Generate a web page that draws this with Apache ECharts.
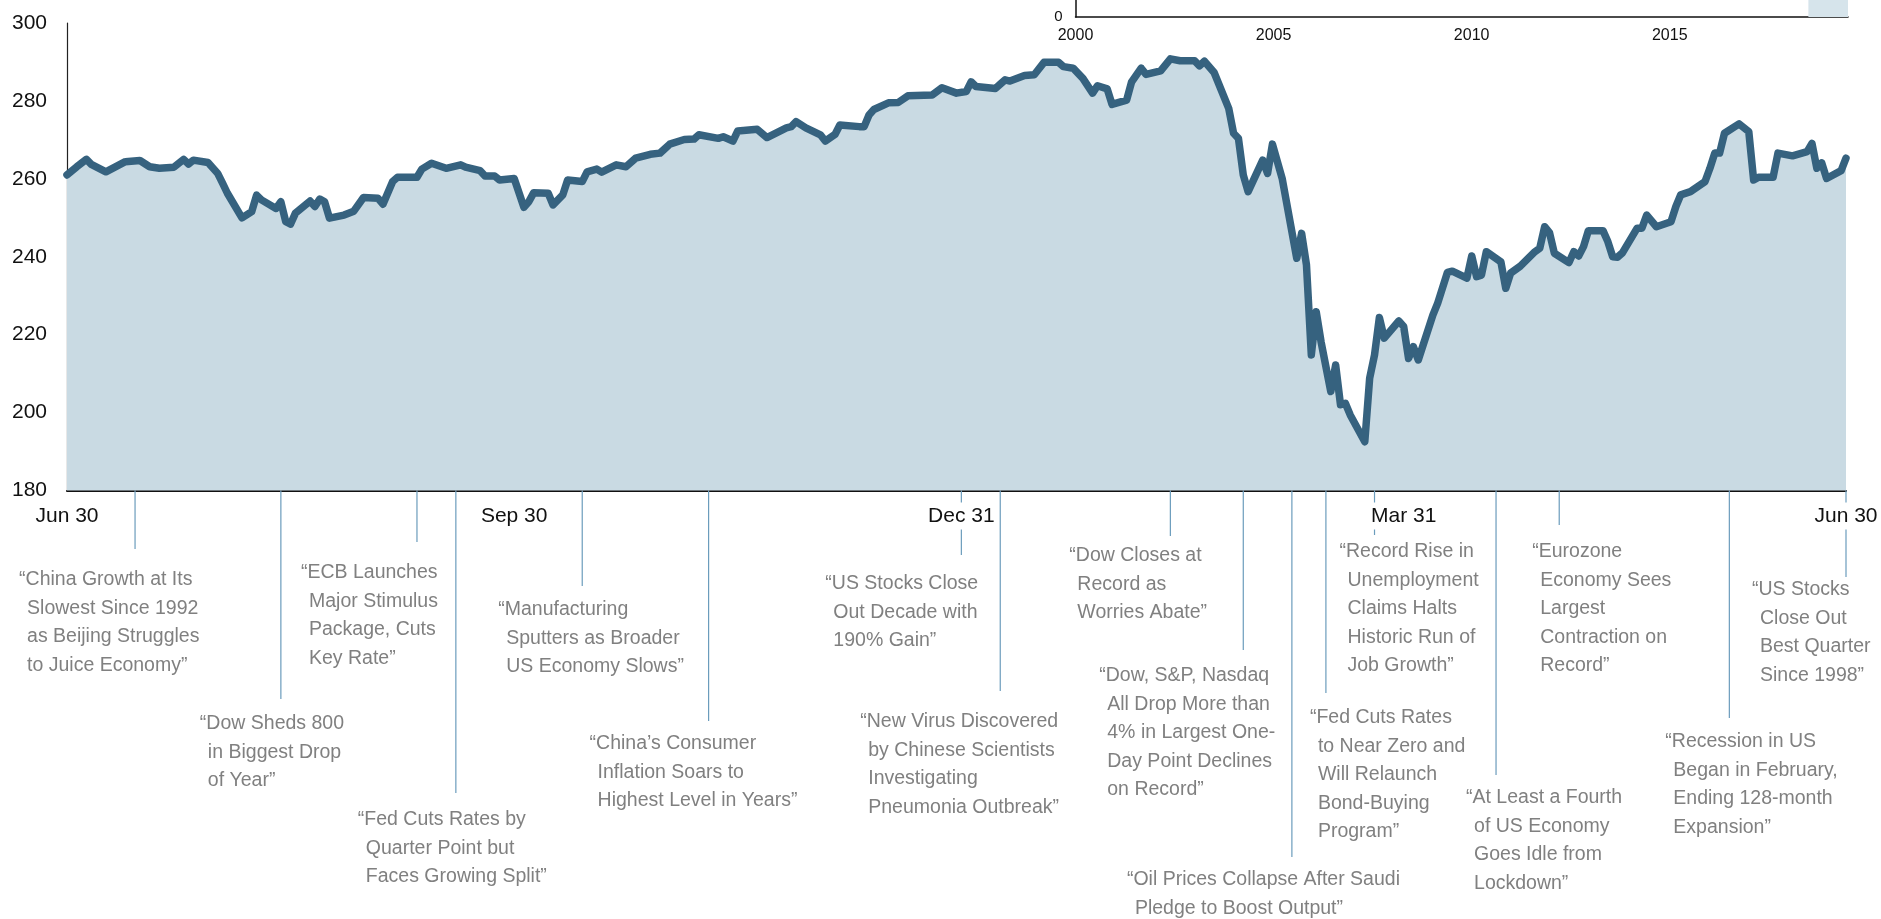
<!DOCTYPE html>
<html>
<head>
<meta charset="utf-8">
<script src="https://cdn.jsdelivr.net/npm/echarts@6/dist/echarts.min.js"></script>
<style>
html,body{margin:0;padding:0;background:#fff;}
#chart{width:1881px;height:919px;}
</style>
</head>
<body>
<div id="chart"></div>
<script>
// ---------------- DATA ----------------
const dates = [
'2019-06-30','2019-07-02','2019-07-04','2019-07-05','2019-07-08','2019-07-12','2019-07-15','2019-07-17','2019-07-19','2019-07-22',
'2019-07-24','2019-07-25','2019-07-26','2019-07-29','2019-07-31','2019-08-01','2019-08-02','2019-08-05','2019-08-07','2019-08-08',
'2019-08-09','2019-08-12','2019-08-13','2019-08-14','2019-08-15','2019-08-16','2019-08-19','2019-08-20','2019-08-21','2019-08-22',
'2019-08-23','2019-08-26','2019-08-28','2019-08-30','2019-09-02','2019-09-03','2019-09-05','2019-09-06','2019-09-10','2019-09-11',
'2019-09-13','2019-09-16','2019-09-19','2019-09-20','2019-09-23','2019-09-24','2019-09-26','2019-09-27','2019-09-30','2019-10-02',
'2019-10-03','2019-10-04','2019-10-07','2019-10-08','2019-10-10','2019-10-11','2019-10-14','2019-10-15','2019-10-17','2019-10-18',
'2019-10-21','2019-10-23','2019-10-25','2019-10-28','2019-10-30','2019-11-01','2019-11-04','2019-11-06','2019-11-07','2019-11-11',
'2019-11-12','2019-11-14','2019-11-15','2019-11-19','2019-11-21','2019-11-25','2019-11-26','2019-11-27','2019-11-29','2019-12-02',
'2019-12-03','2019-12-05','2019-12-06','2019-12-10','2019-12-11','2019-12-12','2019-12-13','2019-12-16','2019-12-18','2019-12-20',
'2019-12-25','2019-12-27','2019-12-30','2020-01-01','2020-01-02','2020-01-03','2020-01-07','2020-01-08','2020-01-09','2020-01-10',
'2020-01-13','2020-01-15','2020-01-17','2020-01-20','2020-01-21','2020-01-23','2020-01-25','2020-01-27','2020-01-28','2020-01-30',
'2020-01-31','2020-02-03','2020-02-04','2020-02-06','2020-02-07','2020-02-10','2020-02-12','2020-02-14','2020-02-17','2020-02-18',
'2020-02-19','2020-02-21','2020-02-24','2020-02-25','2020-02-26','2020-02-27','2020-02-28','2020-03-02','2020-03-03','2020-03-04',
'2020-03-06','2020-03-09','2020-03-10','2020-03-11','2020-03-12','2020-03-13','2020-03-14','2020-03-16','2020-03-17','2020-03-18',
'2020-03-19','2020-03-20','2020-03-23','2020-03-24','2020-03-25','2020-03-26','2020-03-27','2020-03-30','2020-03-31','2020-04-01',
'2020-04-02','2020-04-03','2020-04-06','2020-04-07','2020-04-09','2020-04-10','2020-04-13','2020-04-14','2020-04-15','2020-04-16',
'2020-04-17','2020-04-20','2020-04-21','2020-04-22','2020-04-24','2020-04-27','2020-04-28','2020-04-29','2020-04-30','2020-05-01',
'2020-05-04','2020-05-05','2020-05-06','2020-05-07','2020-05-08','2020-05-11','2020-05-12','2020-05-13','2020-05-14','2020-05-15',
'2020-05-18','2020-05-19','2020-05-20','2020-05-22','2020-05-25','2020-05-26','2020-05-27','2020-05-29','2020-06-01','2020-06-02',
'2020-06-03','2020-06-04','2020-06-05','2020-06-08','2020-06-10','2020-06-11','2020-06-12','2020-06-15','2020-06-16','2020-06-19',
'2020-06-22','2020-06-23','2020-06-24','2020-06-25','2020-06-26','2020-06-29','2020-06-30'
];
const values = [
261.0,263.1,265.0,263.7,261.8,264.4,264.7,263.1,262.7,263.0,
265.0,263.8,264.8,264.2,261.4,258.9,256.3,250.0,251.6,255.8,
254.6,252.4,254.1,249.0,248.4,251.2,254.3,252.9,254.8,254.1,
249.9,250.7,251.7,255.2,255.0,253.5,259.3,260.4,260.4,262.5,
264.0,262.7,263.6,263.0,262.1,260.7,260.7,259.7,260.1,252.7,
254.1,256.4,256.3,253.3,255.9,259.7,259.3,261.8,262.5,261.7,
263.6,263.1,265.3,266.3,266.6,268.9,270.1,270.2,271.3,270.4,
270.8,269.7,272.3,272.7,270.6,273.1,273.4,274.7,273.1,271.3,
269.7,271.4,273.8,273.4,273.4,276.4,277.8,279.5,279.6,281.3,
281.5,283.4,282.0,282.4,284.9,283.7,283.2,284.3,285.4,285.1,
286.5,286.7,289.9,289.9,288.8,288.4,285.8,282.0,283.9,283.1,
279.1,280.2,284.8,288.4,286.8,287.7,290.8,290.3,290.3,289.0,
290.2,287.3,278.1,271.7,270.4,261.0,256.7,264.8,261.4,268.9,
260.1,239.6,246.0,237.9,214.8,225.9,218.2,205.4,212.2,202.0,
202.4,199.4,192.5,208.8,214.8,224.4,219.1,223.5,222.1,213.9,
216.9,213.5,225.0,228.1,236.0,236.3,234.5,240.2,234.9,235.3,
241.3,238.7,231.9,235.8,237.6,241.3,242.2,247.7,246.2,240.9,
238.5,241.3,240.2,242.6,246.7,246.7,243.9,240.0,239.9,241.0,
247.3,247.3,250.7,247.7,249.0,252.9,255.9,256.7,259.3,262.7,
266.6,266.6,271.7,274.1,272.1,259.7,260.4,260.4,266.6,265.9,
267.0,269.1,262.7,264.1,260.1,262.1,265.3
];

const xRange = ['2019-06-30', '2020-06-30'];
const xTickDates = ['2019-06-30', '2019-09-30', '2019-12-31', '2020-03-31', '2020-06-30'];
const xTickLabels = ['Jun 30', 'Sep 30', 'Dec 31', 'Mar 31', 'Jun 30'];
const yMin = 180, yMax = 300, yStep = 20;

const insetRange = [2000, 2019.5];
const insetYears = [2000, 2005, 2010, 2015];
const insetZero = [0];
const insetHighlight = [2018.5, 2019.5];

const annDates = [
'2019-07-14','2019-08-13','2019-09-10','2019-09-18','2019-10-14','2019-11-09',
'2019-12-31','2020-01-08','2020-02-12','2020-02-27','2020-03-08','2020-03-15',
'2020-03-25','2020-04-19','2020-05-02','2020-06-06','2020-06-30'
];
const annTexts = [
['\u201cChina Growth at Its','Slowest Since 1992','as Beijing Struggles','to Juice Economy\u201d'],
['\u201cDow Sheds 800','in Biggest Drop','of Year\u201d'],
['\u201cECB Launches','Major Stimulus','Package, Cuts','Key Rate\u201d'],
['\u201cFed Cuts Rates by','Quarter Point but','Faces Growing Split\u201d'],
['\u201cManufacturing','Sputters as Broader','US Economy Slows\u201d'],
['\u201cChina\u2019s Consumer','Inflation Soars to','Highest Level in Years\u201d'],
['\u201cUS Stocks Close','Out Decade with','190% Gain\u201d'],
['\u201cNew Virus Discovered','by Chinese Scientists','Investigating','Pneumonia Outbreak\u201d'],
['\u201cDow Closes at','Record as','Worries Abate\u201d'],
['\u201cDow, S&P, Nasdaq','All Drop More than','4% in Largest One-','Day Point Declines','on Record\u201d'],
['\u201cOil Prices Collapse After Saudi','Pledge to Boost Output\u201d'],
['\u201cFed Cuts Rates','to Near Zero and','Will Relaunch','Bond-Buying','Program\u201d'],
['\u201cRecord Rise in','Unemployment','Claims Halts','Historic Run of','Job Growth\u201d'],
['\u201cAt Least a Fourth','of US Economy','Goes Idle from','Lockdown\u201d'],
['\u201cEurozone','Economy Sees','Largest','Contraction on','Record\u201d'],
['\u201cRecession in US','Began in February,','Ending 128-month','Expansion\u201d'],
['\u201cUS Stocks','Close Out','Best Quarter','Since 1998\u201d']
];

// ---------------- LAYOUT (pixels) ----------------
const annLineEnd = [549, 699, 542, 793, 586, 721, 555, 691, 536, 650, 857, 693, 535, 775, 525, 718, 577];
const annTextDx  = [-116, -81, -116, -98, -84, -119, -136, -140, -101, -144, -165, -16, -35, -30, -27, -64, -94];
const annTextY   = [580, 724, 573, 820, 610, 744, 584, 722, 556, 676, 880, 718, 552, 798, 552, 742, 590];
const annLineH = 28.5, annHang = 8;
const tickLabelDy = 25.5;

const FONT = '"Liberation Sans", Arial, Helvetica, sans-serif';
const LINE_COLOR = '#36627f';
const AREA_COLOR = '#c9dae3';
const LEADER_COLOR = '#6b9cbc';
const ANN_COLOR = '#808080';

function parseLocal(s) {
  const p = s.split('-').map(Number);
  return new Date(p[0], p[1] - 1, p[2]).getTime();
}

const chart = echarts.init(document.getElementById('chart'), null, {renderer: 'canvas'});

const option = {
  animation: false,
  backgroundColor: '#fff',
  textStyle: {fontFamily: FONT},
  grid: [
    {left: 67, right: 35, top: 23, bottom: 428.5},
    {left: 1075.5, right: 33, top: 0, height: 17}
  ],
  xAxis: [
    {
      type: 'time', gridIndex: 0,
      min: parseLocal(xRange[0]), max: parseLocal(xRange[1]),
      axisLine: {show: true, lineStyle: {color: '#111', width: 2}},
      axisTick: {show: false},
      splitLine: {show: false},
      axisLabel: {show: false}
    },
    {
      type: 'value', gridIndex: 1,
      min: insetRange[0], max: insetRange[1], interval: 5,
      axisLine: {show: true, lineStyle: {color: '#111', width: 1.5}},
      axisTick: {show: false},
      splitLine: {show: false},
      axisLabel: {
        customValues: insetYears,
        fontSize: 16, color: '#111', fontFamily: FONT, margin: 11,
        formatter: function (v) { return String(v); }
      }
    }
  ],
  yAxis: [
    {
      type: 'value', gridIndex: 0,
      min: yMin, max: yMax, interval: yStep,
      axisLine: {show: true, lineStyle: {color: '#222', width: 1.2}},
      axisTick: {show: false},
      splitLine: {show: false},
      axisLabel: {fontSize: 21, color: '#111', fontFamily: FONT, margin: 20}
    },
    {
      type: 'value', gridIndex: 1,
      min: 0, max: 1, interval: 1,
      axisLine: {show: true, lineStyle: {color: '#111', width: 1.5}},
      axisTick: {show: false},
      splitLine: {show: false},
      axisLabel: {customValues: insetZero, fontSize: 15, color: '#111', fontFamily: FONT, margin: 13}
    }
  ],
  series: [
    {
      type: 'custom', name: 'insetHighlight',
      xAxisIndex: 1, yAxisIndex: 1, silent: true,
      data: [[insetHighlight[0], insetHighlight[1], 0]],
      encode: {x: [0, 1], y: 2},
      renderItem: function (params, api) {
        const a = api.coord([api.value(0), 1]);
        const b = api.coord([api.value(1), 0]);
        return {type: 'rect', shape: {x: a[0], y: a[1], width: b[0] - a[0], height: b[1] - a[1]},
                style: {fill: '#d6e4eb'}};
      }
    },
    {
      type: 'line', name: 'Index',
      xAxisIndex: 0, yAxisIndex: 0,
      data: dates.map(function (d, i) { return [d, values[i]]; }),
      showSymbol: false, symbol: 'none',
      lineStyle: {color: LINE_COLOR, width: 7.5, join: 'round', cap: 'round'},
      areaStyle: {color: AREA_COLOR, opacity: 1},
      z: 2
    },
    {
      type: 'custom', name: 'annotations',
      xAxisIndex: 0, yAxisIndex: 0, silent: true, clip: false, z: 1,
      data: annDates.map(function (d, i) { return [d, yMin, i]; }),
      encode: {x: 0, y: 1},
      renderItem: function (params, api) {
        const i = api.value(2);
        const p = api.coord([api.value(0), api.value(1)]);
        const children = [{
          type: 'line',
          shape: {x1: p[0], y1: p[1], x2: p[0], y2: annLineEnd[i]},
          style: {stroke: LEADER_COLOR, lineWidth: 1.2}
        }];
        annTexts[i].forEach(function (t, k) {
          children.push({
            type: 'text',
            style: {
              text: t,
              x: p[0] + annTextDx[i] + (k ? annHang : 0),
              y: annTextY[i] + k * annLineH,
              fill: ANN_COLOR,
              font: '19.5px ' + FONT,
              align: 'left', verticalAlign: 'middle'
            }
          });
        });
        return {type: 'group', children: children};
      }
    },
    {
      type: 'custom', name: 'xTickLabels',
      xAxisIndex: 0, yAxisIndex: 0, silent: true, clip: false, z: 3,
      data: xTickDates.map(function (d, i) { return [d, yMin, i]; }),
      encode: {x: 0, y: 1},
      renderItem: function (params, api) {
        const i = api.value(2);
        const p = api.coord([api.value(0), api.value(1)]);
        return {
          type: 'text',
          style: {
            text: xTickLabels[i],
            x: p[0], y: p[1] + tickLabelDy,
            fill: '#111', font: '21px ' + FONT,
            align: 'center', verticalAlign: 'middle',
            backgroundColor: '#fff', padding: [3, 3, 3, 3]
          }
        };
      }
    }
  ]
};
chart.setOption(option);
</script>
</body>
</html>
